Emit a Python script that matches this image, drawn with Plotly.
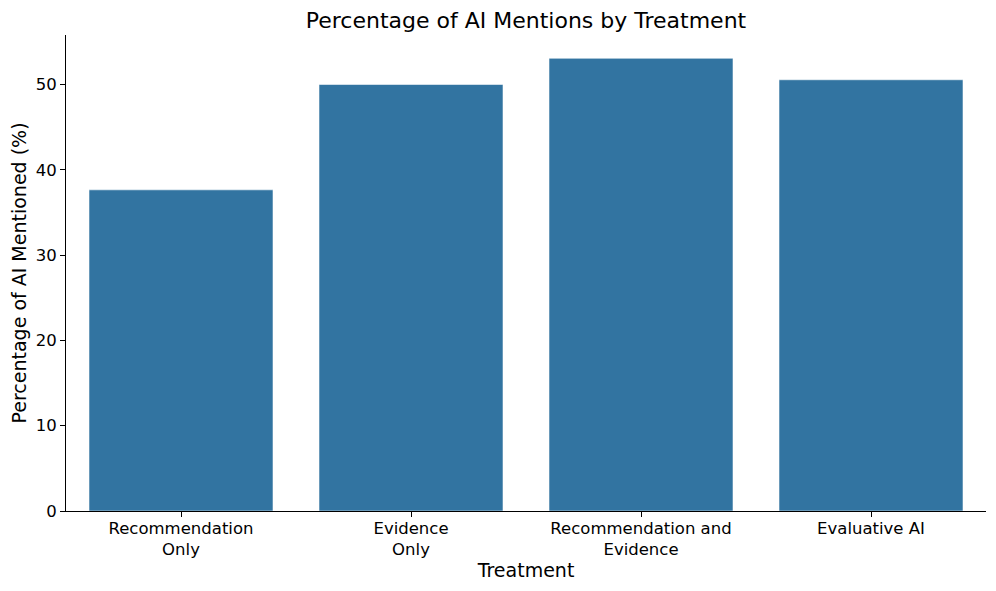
import plotly.graph_objects as go

categories = ["Recommendation<br>Only", "Evidence<br>Only", "Recommendation and<br>Evidence", "Evaluative AI"]
values = [37.65, 50.0, 53.07, 50.55]
y_ticks = [0, 10, 20, 30, 40, 50]

FONT = "DejaVu Sans"

# page body has an 8px margin, so the figure is laid out to compensate
W, H = 988, 583

fig = go.Figure(
    go.Bar(
        x=categories,
        y=values,
        width=0.8,
        marker=dict(color="#3274a1", line=dict(color="rgba(255,255,255,0.55)", width=1)),
    )
)

fig.update_layout(
    width=W,
    height=H,
    margin=dict(l=58, r=10, t=27, b=80, autoexpand=False),
    plot_bgcolor="white",
    paper_bgcolor="white",
    font=dict(family=FONT, color="black"),
    showlegend=False,
    title=dict(
        text="Percentage of AI Mentions by Treatment",
        font=dict(family=FONT, size=22, color="black"),
        x=518 / W,
        xanchor="center",
        y=1 - 12 / H,
        yanchor="middle",
    ),
    bargap=0.2,
)

fig.update_xaxes(
    range=[-0.5, 3.5],
    automargin=False,
    showline=True,
    linecolor="black",
    linewidth=1.1,
    ticks="outside",
    ticklen=5,
    tickwidth=1.1,
    tickcolor="black",
    showgrid=False,
    zeroline=False,
    ticklabelstandoff=-3,
    tickfont=dict(family=FONT, size=16.5, color="black"),
    title=dict(text="Treatment", font=dict(family=FONT, size=19, color="black"), standoff=2),
)

fig.update_yaxes(
    range=[0, 55.8],
    automargin=False,
    tickvals=y_ticks,
    showline=True,
    linecolor="black",
    linewidth=1.1,
    ticks="outside",
    ticklen=5,
    tickwidth=1.1,
    tickcolor="black",
    showgrid=False,
    zeroline=False,
    tickfont=dict(family=FONT, size=16.5, color="black"),
    title=dict(text="Percentage of AI Mentioned (%)", font=dict(family=FONT, size=19, color="black"), standoff=7),
)

fig.write_html("out.html")
